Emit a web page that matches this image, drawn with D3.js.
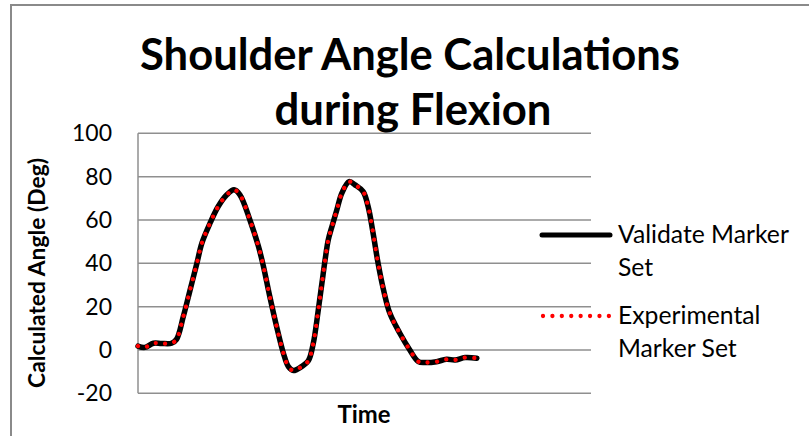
<!DOCTYPE html>
<html><head><meta charset="utf-8">
<script src="https://cdn.jsdelivr.net/npm/d3@7/dist/d3.min.js"></script>
<style>html,body{margin:0;padding:0;background:#fff;}svg{display:block;font-family:Lato,"Open Sans",sans-serif;}</style>
</head><body>
<svg id="c" width="809" height="436"></svg>
<script>
const titleLines = ["Shoulder Angle Calculations", "during Flexion"];
const yAxisTitle = "Calculated Angle (Deg)";
const xAxisTitle = "Time";
const seriesNames = ["Validate Marker Set", "Experimental Marker Set"];
const yTicks = [-20, 0, 20, 40, 60, 80, 100];
const timeIdx = [0,1.5,3.4,5.2,7.4,8.5,10,11.5,13,14.1,15.9,17.7,19.6,21.2,22.5,24.7,26.6,27.7,29.1,30.6,32.1,33.2,34.3,36.1,37.6,38.7,39.8,40.6,41.3,42.0,42.8,43.9,45.0,46.6,47.9,49.7,50.8,51.9,53.0,54.2,55.6,57.8,60.0,61.9,63.4,65.9,68.1,70.0,72.2,74.8];
const validateVals = [1.8,1.2,3.1,3.0,3.1,4.9,15.4,27.7,40,49.3,58.5,66.2,71.6,73.9,71.6,60,47.7,38.5,24.6,10.8,-1.5,-7.7,-9.5,-7.7,-5.0,3.1,18.5,30.8,41.6,50.8,56.9,64.7,72.4,77.7,76.2,73.1,66.2,53.9,40,27.7,16.9,7.7,0,-5.4,-5.8,-5.4,-4.3,-4.6,-3.5,-3.8];
const experimentalVals = [1.8,1.2,3.1,3.0,3.1,4.9,15.4,27.7,40,49.3,58.5,66.2,71.6,73.9,71.6,60,47.7,38.5,24.6,10.8,-1.5,-7.7,-9.5,-7.7,-5.0,3.1,18.5,30.8,41.6,50.8,56.9,64.7,72.4,77.7,76.2,73.1,66.2,53.9,40,27.7,16.9,7.7,0,-5.4,-5.8,-5.4,-4.3,-4.6,-3.5,-3.8];

const svg = d3.select("#c");
const L = 138, R = 591, T = 133.3, B = 393.3;
const x = d3.scaleLinear().domain([0, 100]).range([L, R]);
const y = d3.scaleLinear().domain([-20, 100]).range([B, T]);

function fit(sel, target) {
  const n = sel.node();
  const w = n.getComputedTextLength();
  const fs = parseFloat(sel.attr("font-size"));
  sel.attr("font-size", (fs * target / w).toFixed(2));
}

// chart border
svg.append("rect").attr("x", 11).attr("y", 5).attr("width", 820).attr("height", 460)
  .attr("fill", "none").attr("stroke", "#8a8a8a").attr("stroke-width", 2);

// gridlines
svg.append("g").selectAll("line").data(yTicks).join("line")
  .attr("x1", L).attr("x2", R).attr("y1", d => y(d)).attr("y2", d => y(d))
  .attr("stroke", "#8f8f8f").attr("stroke-width", 1.5);
svg.append("line").attr("x1", L).attr("x2", L).attr("y1", T).attr("y2", B)
  .attr("stroke", "#8f8f8f").attr("stroke-width", 1.5);

// y tick labels
svg.append("g").selectAll("text").data(yTicks).join("text")
  .attr("x", 112).attr("y", d => y(d)).attr("dy", "0.35em")
  .attr("text-anchor", "end").attr("font-size", 23).attr("fill", "#000")
  .text(d => d);

// title
const t1 = svg.append("text").attr("x", 410).attr("y", 70).attr("text-anchor", "middle")
  .attr("font-weight", "bold").attr("font-size", 46).text(titleLines[0]);
fit(t1, 540);
const t2 = svg.append("text").attr("x", 413).attr("y", 125).attr("text-anchor", "middle")
  .attr("font-weight", "bold").attr("font-size", 46).text(titleLines[1]);
fit(t2, 277);

// axis titles
const yt = svg.append("text").attr("transform", "translate(45,273) rotate(-90)")
  .attr("text-anchor", "middle").attr("font-weight", "bold").attr("font-size", 24).text(yAxisTitle);
fit(yt, 230);
const xt = svg.append("text").attr("x", 364).attr("y", 423).attr("text-anchor", "middle")
  .attr("font-weight", "bold").attr("font-size", 24).text(xAxisTitle);
fit(xt, 53);

// lines
const line = d3.line().x(d => x(d[0])).y(d => y(d[1])).curve(d3.curveCatmullRom.alpha(0.5));
const vData = timeIdx.map((t, i) => [t, validateVals[i]]);
const eData = timeIdx.map((t, i) => [t, experimentalVals[i]]);
svg.append("path").attr("d", line(vData)).attr("fill", "none").attr("stroke", "#000")
  .attr("stroke-width", 5.5).attr("stroke-linejoin", "round").attr("stroke-linecap", "round");
svg.append("path").attr("d", line(eData)).attr("fill", "none").attr("stroke", "#ff0000")
  .attr("stroke-width", 4.3).attr("stroke-dasharray", "0.01 9.4").attr("stroke-linecap", "round");

// legend
svg.append("line").attr("x1", 542).attr("x2", 610).attr("y1", 235).attr("y2", 235)
  .attr("stroke", "#000").attr("stroke-width", 5).attr("stroke-linecap", "round");
svg.append("line").attr("x1", 543).attr("x2", 610).attr("y1", 316).attr("y2", 316)
  .attr("stroke", "#ff0000").attr("stroke-width", 4.3).attr("stroke-dasharray", "0.01 9.4").attr("stroke-linecap", "round");
const l1 = svg.append("text").attr("x", 618).attr("y", 243).attr("font-size", 24).text("Validate Marker");
fit(l1, 171);
const fs1 = l1.attr("font-size");
svg.append("text").attr("x", 618).attr("y", 276).attr("font-size", fs1).text("Set");
const l3 = svg.append("text").attr("x", 618).attr("y", 324).attr("font-size", fs1).text("Experimental");
svg.append("text").attr("x", 618).attr("y", 357).attr("font-size", fs1).text("Marker Set");
</script>
</body></html>
